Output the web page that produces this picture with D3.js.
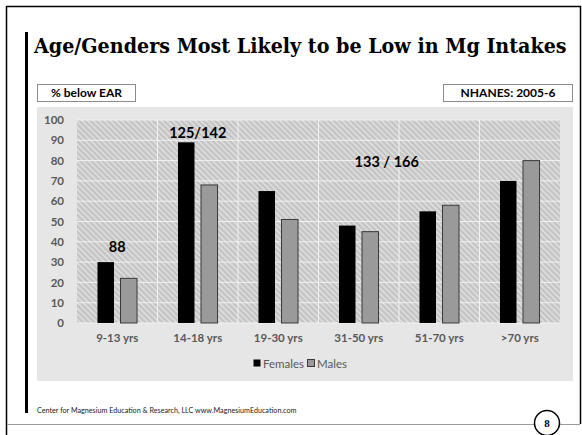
<!DOCTYPE html>
<html>
<head>
<meta charset="utf-8">
<script src="https://cdn.jsdelivr.net/npm/d3@7"></script>
<style>
  body { margin: 0; background: #fff; }
  svg { display: block; }
</style>
</head>
<body>
<svg id="chart" width="582" height="435"></svg>
<script>
const W = 582, H = 435;

// data
const ageGroups = ["9-13 yrs", "14-18 yrs", "19-30 yrs", "31-50 yrs", "51-70 yrs", ">70 yrs"];
const series = ["Females", "Males"];
const females = [30, 89, 65, 48, 55, 70];
const males = [22, 68, 51, 45, 58, 80];
const yTicks = [0, 10, 20, 30, 40, 50, 60, 70, 80, 90, 100];
const notes = [
  { text: "88", group: "9-13 yrs", value: 35 },
  { text: "125/142", group: "14-18 yrs", value: 91 },
  { text: "133 / 166", group: "31-50 yrs", value: 77 }
];

const svg = d3.select("#chart");
const sans = "Lato, 'Open Sans', sans-serif";

// slide frame
svg.append("path")
  .attr("d", `M6.5,${H} V6.5 H580.5 V424`)
  .attr("fill", "none").attr("stroke", "#000").attr("stroke-width", 1.5);
svg.append("rect").attr("x", 25).attr("y", 32).attr("width", 3).attr("height", 381).attr("fill", "#000");

// title, squeezed horizontally to the reference width
const title = svg.append("text")
  .attr("font-family", "'DejaVu Serif', serif")
  .attr("font-weight", "bold").attr("font-size", 20)
  .text("Age/Genders Most Likely to be Low in Mg Intakes");
const tw = title.node().getComputedTextLength();
title.attr("transform", `translate(34,53) scale(${Math.min(1, 533 / tw)},1)`);

// label boxes
const boxes = [
  { x: 37.5, w: 98, text: "% below EAR" },
  { x: 443.5, w: 129, text: "NHANES: 2005-6" }
];
boxes.forEach(b => {
  svg.append("rect").attr("x", b.x).attr("y", 84.5).attr("width", b.w).attr("height", 17)
    .attr("fill", "#fff").attr("stroke", "#8c8c8c");
  svg.append("text").attr("x", b.x + b.w / 2).attr("y", 97)
    .attr("text-anchor", "middle").attr("font-family", sans)
    .attr("font-weight", "bold").attr("font-size", 12).text(b.text);
});

// chart background
svg.append("rect").attr("x", 37).attr("y", 107).attr("width", 536).attr("height", 274).attr("fill", "#e6e6e6");

const plot = { left: 77, right: 560, top: 120, bottom: 323 };

const defs = svg.append("defs");
const pat = defs.append("pattern")
  .attr("id", "hatch").attr("patternUnits", "userSpaceOnUse")
  .attr("width", 4).attr("height", 4)
  .attr("patternTransform", "rotate(-45)");
pat.append("rect").attr("width", 4).attr("height", 4).attr("fill", "#c4c4c4");
pat.append("rect").attr("width", 1.4).attr("height", 4).attr("fill", "#e4e4e4");

svg.append("rect")
  .attr("x", plot.left).attr("y", plot.top)
  .attr("width", plot.right - plot.left).attr("height", plot.bottom - plot.top)
  .attr("fill", "url(#hatch)");

const x0 = d3.scaleBand().domain(ageGroups).range([plot.left, plot.right]);
const x1 = d3.scaleBand().domain(series).range([0, x0.bandwidth()])
  .paddingInner(0.283).paddingOuter(0.89);
const y = d3.scaleLinear().domain([0, 100]).range([plot.bottom, plot.top]);
const color = d3.scaleOrdinal().domain(series).range(["#000000", "#9a9a9a"]);

// gridlines
svg.append("g").selectAll("line").data(yTicks).join("line")
  .attr("x1", plot.left).attr("x2", plot.right)
  .attr("y1", d => y(d)).attr("y2", d => y(d))
  .attr("stroke", "#f2f2f2").attr("stroke-width", 1);
svg.append("g").selectAll("line").data(ageGroups.slice(1)).join("line")
  .attr("x1", d => x0(d)).attr("x2", d => x0(d))
  .attr("y1", plot.top).attr("y2", plot.bottom)
  .attr("stroke", "#f2f2f2").attr("stroke-width", 1);

// bars
const rows = ageGroups.map((g, i) => ({ group: g, values: [
  { key: "Females", value: females[i] },
  { key: "Males", value: males[i] }
]}));

svg.append("g").selectAll("g").data(rows).join("g")
  .attr("transform", d => `translate(${x0(d.group)},0)`)
  .selectAll("rect").data(d => d.values).join("rect")
  .attr("x", d => x1(d.key))
  .attr("y", d => y(d.value))
  .attr("width", x1.bandwidth())
  .attr("height", d => y(0) - y(d.value))
  .attr("fill", d => color(d.key))
  .attr("stroke", d => d.key === "Males" ? "#3a3a3a" : "none")
  .attr("stroke-width", 1);

// axes
const yAxis = svg.append("g")
  .attr("transform", `translate(${plot.left},0)`)
  .call(d3.axisLeft(y).tickValues(yTicks).tickSize(0).tickPadding(13));
yAxis.select(".domain").remove();
yAxis.selectAll("text").attr("font-family", sans).attr("font-weight", "bold")
  .attr("font-size", 11.5).attr("fill", "#595959");

const xAxis = svg.append("g")
  .attr("transform", `translate(0,${plot.bottom})`)
  .call(d3.axisBottom(x0).tickSize(0).tickPadding(11));
xAxis.select(".domain").remove();
xAxis.selectAll("text").attr("font-family", sans).attr("font-weight", "bold")
  .attr("font-size", 11.5).attr("fill", "#595959");

// annotations
svg.append("g").selectAll("text").data(notes).join("text")
  .attr("x", d => x0(d.group) + x0.bandwidth() / 2 + (d.text === "133 / 166" ? 28 : 0))
  .attr("y", d => y(d.value))
  .attr("text-anchor", "middle")
  .attr("font-family", sans).attr("font-weight", "bold").attr("font-size", 14.5)
  .text(d => d.text);

// legend
const legend = svg.append("g").attr("transform", "translate(253,359)");
const legX = [0, 54];
series.forEach((s, i) => {
  legend.append("rect").attr("x", legX[i] + 0.5).attr("y", 0.5).attr("width", 7).attr("height", 7)
    .attr("fill", color(s)).attr("stroke", i ? "#3a3a3a" : "none");
  legend.append("text").attr("x", legX[i] + 10).attr("y", 8.5)
    .attr("font-family", sans).attr("font-size", 11.5).attr("fill", "#595959").text(s);
});

// footer
svg.append("text").attr("x", 37).attr("y", 413)
  .attr("font-family", sans).attr("font-size", 7.2).attr("fill", "#222")
  .text("Center for Magnesium Education & Research, LLC www.MagnesiumEducation.com");

svg.append("line").attr("x1", 7).attr("x2", 580).attr("y1", 424.5).attr("y2", 424.5)
  .attr("stroke", "#9a9a9a").attr("stroke-width", 1);
svg.append("circle").attr("cx", 547).attr("cy", 423).attr("r", 12.5)
  .attr("fill", "#fff").attr("stroke", "#000").attr("stroke-width", 1.5);
svg.append("text").attr("x", 547).attr("y", 427).attr("text-anchor", "middle")
  .attr("font-family", "'Liberation Serif', serif").attr("font-weight", "bold").attr("font-size", 11)
  .text("8");
</script>
</body>
</html>
